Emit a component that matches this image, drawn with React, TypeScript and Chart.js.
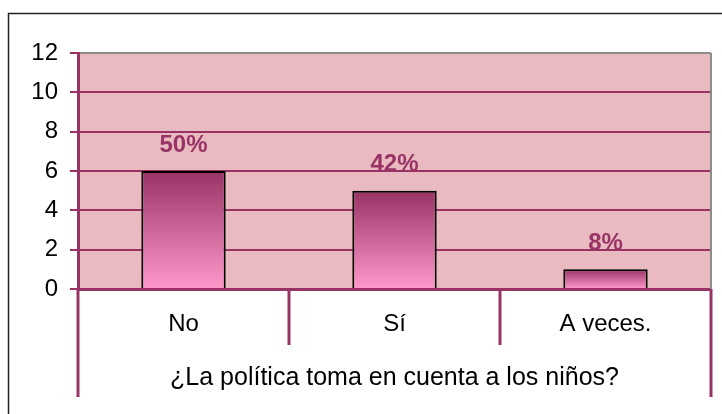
import React, { useEffect, useRef } from 'react';
import { Chart, registerables } from 'chart.js';

Chart.register(...registerables);

const categories = ['No', 'Sí', 'A veces.'];
const counts = [6, 5, 1];
const percentLabels = ['50%', '42%', '8%'];
const yTicks = [0, 2, 4, 6, 8, 10, 12];
const axisTitle = '¿La política toma en cuenta a los niños?';

const PURPLE = '#993366';
const PINK_BG = '#E9BBC1';
const GREY = '#8C8C8C';
const FONT = 'Arial, "Liberation Sans", sans-serif';

const decorPlugin = {
  id: 'decor',
  beforeDraw(chart: any) {
    const { ctx, chartArea, width, height } = chart;
    ctx.save();
    ctx.fillStyle = '#ffffff';
    ctx.fillRect(0, 0, width, height);
    // outer frame (only left and top are visible)
    ctx.strokeStyle = '#222222';
    ctx.lineWidth = 1.5;
    ctx.beginPath();
    ctx.moveTo(8.5, height);
    ctx.lineTo(8.5, 13.5);
    ctx.lineTo(width, 13.5);
    ctx.stroke();
    // plot background
    ctx.fillStyle = PINK_BG;
    ctx.fillRect(chartArea.left, chartArea.top, chartArea.right - chartArea.left, chartArea.bottom - chartArea.top);
    ctx.restore();
  },
  afterDatasetsDraw(chart: any) {
    const { ctx, chartArea } = chart;
    const meta = chart.getDatasetMeta(0);
    ctx.save();
    // right grey border of plot
    ctx.strokeStyle = GREY;
    ctx.lineWidth = 2;
    ctx.beginPath();
    ctx.moveTo(chartArea.right, chartArea.top);
    ctx.lineTo(chartArea.right, chartArea.bottom);
    ctx.stroke();
    // percent labels
    ctx.fillStyle = PURPLE;
    ctx.font = 'bold 24px ' + FONT;
    ctx.textAlign = 'center';
    ctx.textBaseline = 'middle';
    meta.data.forEach((bar: any, i: number) => {
      ctx.fillText(percentLabels[i], bar.x, bar.y - 26);
    });
    ctx.restore();
  },
  afterDraw(chart: any) {
    const { ctx, chartArea } = chart;
    const n = categories.length;
    const w = (chartArea.right - chartArea.left) / n;
    ctx.save();
    ctx.strokeStyle = PURPLE;
    ctx.lineWidth = 3;
    for (let i = 0; i <= n; i++) {
      const x = chartArea.left + i * w;
      const outer = i === 0 || i === n;
      ctx.beginPath();
      ctx.moveTo(x, chartArea.bottom);
      ctx.lineTo(x, chartArea.bottom + (outer ? 108 : 56));
      ctx.stroke();
    }
    ctx.restore();
  },
};

export default function App() {
  const ref = useRef<HTMLCanvasElement>(null);

  useEffect(() => {
    const canvas = ref.current;
    if (!canvas) return;
    const chart = new Chart(canvas, {
      type: 'bar',
      data: {
        labels: categories,
        datasets: [
          {
            data: counts,
            backgroundColor: (c: any) => {
              const ch = c.chart;
              const ys = ch.scales && ch.scales.y;
              if (!ys || c.raw == null) return PURPLE;
              const top = ys.getPixelForValue(c.raw as number);
              const base = ys.getPixelForValue(0);
              if (!isFinite(top) || !isFinite(base) || top === base) return PURPLE;
              const g = ch.ctx.createLinearGradient(0, top, 0, base);
              g.addColorStop(0, '#993366');
              g.addColorStop(1, '#FF99CC');
              return g;
            },
            borderColor: '#000000',
            borderWidth: 2,
            categoryPercentage: 1,
            barPercentage: 0.4,
          },
        ],
      },
      options: {
        responsive: false,
        devicePixelRatio: 1,
        animation: false,
        events: [],
        layout: { padding: { left: 8, top: 53, right: 11, bottom: 0 } },
        plugins: {
          legend: { display: false },
          tooltip: { enabled: false },
          title: { display: false },
        },
        scales: {
          x: {
            type: 'category',
            offset: true,
            grid: { display: false, drawTicks: false, drawOnChartArea: false },
            border: { display: true, color: PURPLE, width: 3 },
            ticks: {
              color: '#000000',
              font: { family: FONT, size: 24 },
              padding: 21,
              maxRotation: 0,
              autoSkip: false,
            },
            title: {
              display: true,
              text: axisTitle,
              color: '#000000',
              font: { family: FONT, size: 25 },
              padding: { top: 0, bottom: 21 },
            },
            afterFit: (s: any) => {
              s.height = 125;
            },
          },
          y: {
            min: 0,
            max: 12,
            ticks: {
              stepSize: 2,
              color: '#000000',
              font: { family: FONT, size: 24 },
              padding: 12,
            },
            afterBuildTicks: (s: any) => {
              s.ticks = yTicks.map((v) => ({ value: v }));
            },
            grid: {
              color: (c: any) => (c.tick && c.tick.value === 12 ? GREY : PURPLE),
              tickColor: PURPLE,
              lineWidth: 2,
              tickLength: 8,
              drawTicks: true,
            },
            border: { display: true, color: PURPLE, width: 3 },
            afterFit: (s: any) => {
              s.width = 70;
            },
          },
        },
      },
      plugins: [decorPlugin],
    } as any);
    return () => chart.destroy();
  }, []);

  return (
    <div style={{ position: 'fixed', left: 0, top: 0, width: 722, height: 414, background: '#ffffff' }}>
      <canvas ref={ref} width={722} height={414} style={{ display: 'block', width: 722, height: 414 }} />
    </div>
  );
}
